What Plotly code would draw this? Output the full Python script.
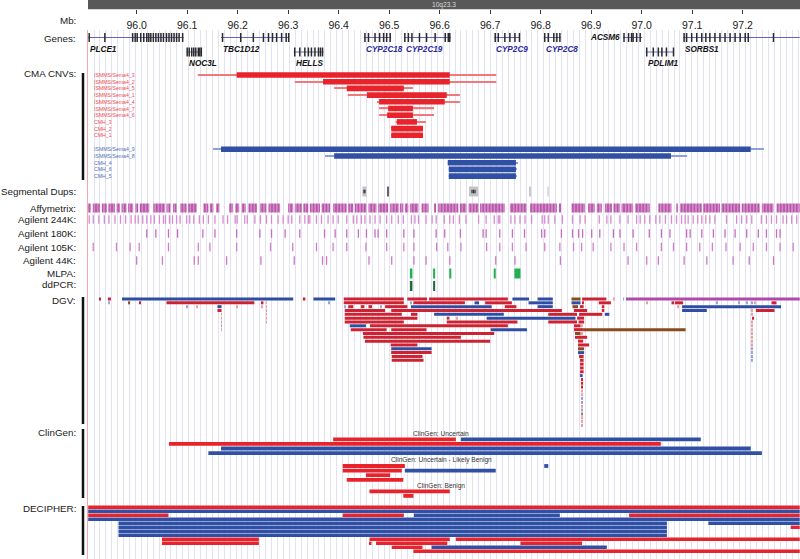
import plotly.graph_objects as go

W, H = 800, 559
VIEW_START, VIEW_END = 95.9036, 97.3135

# ---------------- data ----------------
ruler_ticks = [96.0, 96.1, 96.2, 96.3, 96.4, 96.5, 96.6, 96.7, 96.8, 96.9, 97.0, 97.1, 97.2]
ruler_labels = ["96.0", "96.1", "96.2", "96.3", "96.4", "96.5", "96.6", "96.7", "96.8", "96.9", "97.0", "97.1", "97.2"]
band_name = "10q23.3"

gene_names = ["PLCE1", "NOC3L", "TBC1D12", "HELLS", "CYP2C18", "CYP2C19", "CYP2C9", "CYP2C8", "ACSM6", "PDLIM1", "SORBS1"]
gene_start = [95.904, 96.099, 96.167, 96.311, 96.450, 96.529, 96.708, 96.806, 96.963, 97.008, 97.082]
gene_end = [96.093, 96.129, 96.302, 96.370, 96.504, 96.622, 96.759, 96.840, 97.001, 97.064, 97.313]
gene_row = [0, 1, 0, 1, 0, 0, 0, 0, 0, 1, 0]
gene_is_cyp = [False, False, False, False, True, True, True, True, False, False, False]
gene_exons = {
    "PLCE1": [95.906, 95.937, 95.992, 95.997, 96.001, 96.008, 96.014, 96.020, 96.024, 96.028, 96.033, 96.038,
              96.043, 96.048, 96.053, 96.059, 96.064, 96.069, 96.074, 96.079, 96.084, 96.091],
    "NOC3L": [96.100, 96.104, 96.109, 96.113, 96.117, 96.122, 96.125, 96.128],
    "TBC1D12": [96.170, 96.206, 96.231, 96.251, 96.261, 96.269, 96.277, 96.287, 96.296, 96.301],
    "HELLS": [96.313, 96.323, 96.333, 96.340, 96.346, 96.353, 96.360, 96.364, 96.368],
    "CYP2C18": [96.452, 96.459, 96.472, 96.481, 96.489, 96.495, 96.502],
    "CYP2C19": [96.531, 96.538, 96.545, 96.560, 96.574, 96.591, 96.611, 96.617, 96.620],
    "CYP2C9": [96.710, 96.716, 96.729, 96.739, 96.749, 96.758],
    "CYP2C8": [96.808, 96.815, 96.826, 96.832, 96.838],
    "ACSM6": [96.965, 96.974, 96.980, 96.983, 96.990, 96.997],
    "PDLIM1": [97.010, 97.023, 97.033, 97.040, 97.049, 97.063],
    "SORBS1": [97.084, 97.089, 97.099, 97.109, 97.119, 97.127, 97.135, 97.145, 97.155, 97.165, 97.175, 97.185,
               97.195, 97.205, 97.211, 97.261],
}

cma_labels = ["ISMMS/Sema4_3", "ISMMS/Sema4_2", "ISMMS/Sema4_5", "ISMMS/Sema4_1", "ISMMS/Sema4_4",
              "ISMMS/Sema4_7", "ISMMS/Sema4_6", "CMH_3", "CMH_2", "CMH_1",
              "ISMMS/Sema4_9", "ISMMS/Sema4_8", "CMH_4", "CMH_6", "CMH_5"]
cma_type = ["loss"] * 10 + ["gain"] * 5
cma_outer_start = [96.121, 96.313, 96.391, 96.418, 96.476, 96.480, 96.480, 96.513, 96.504, 96.504,
                   96.151, 96.373, 96.616, 96.618, 96.618]
cma_outer_end = [96.712, 96.712, 96.547, 96.640, 96.640, 96.589, 96.589, 96.573, 96.567, 96.567,
                 97.242, 97.090, 96.755, 96.753, 96.753]
cma_inner_start = [96.198, 96.369, 96.416, 96.456, 96.480, 96.498, 96.496, 96.515, 96.504, 96.504,
                   96.167, 96.391, 96.616, 96.618, 96.618]
cma_inner_end = [96.620, 96.620, 96.529, 96.614, 96.610, 96.547, 96.547, 96.555, 96.567, 96.567,
                 97.216, 97.058, 96.751, 96.751, 96.751]

segdup_start = [96.447, 96.497, 96.658, 96.778, 96.814]
segdup_end = [96.455, 96.499, 96.676, 96.780, 96.816]
segdup_level = ["mid", "dark", "mid", "light", "faint"]
segdup_marks = [96.450, 96.452, 96.664, 96.667, 96.670]

affy_start = [95.903, 95.913, 95.931, 95.944, 95.960, 95.970, 95.983, 95.997, 96.006, 96.033, 96.059, 96.072,
              96.086, 96.102, 96.132, 96.145, 96.157, 96.183, 96.195, 96.208, 96.221, 96.244, 96.261, 96.300,
              96.313, 96.330, 96.343, 96.366, 96.389, 96.419, 96.432, 96.459, 96.478, 96.502, 96.521, 96.531,
              96.541, 96.564, 96.590, 96.597, 96.640, 96.657, 96.680, 96.739, 96.779, 96.838, 96.861, 96.894,
              96.911, 96.927, 96.944, 96.960, 96.987, 97.033, 97.068, 97.076, 97.122, 97.158, 97.198, 97.238,
              97.267]
affy_end = [95.909, 95.927, 95.941, 95.957, 95.967, 95.980, 95.993, 96.003, 96.025, 96.056, 96.067, 96.079,
            96.099, 96.119, 96.142, 96.152, 96.164, 96.191, 96.203, 96.216, 96.238, 96.257, 96.284, 96.310,
            96.327, 96.340, 96.363, 96.383, 96.416, 96.429, 96.455, 96.475, 96.498, 96.519, 96.528, 96.538,
            96.558, 96.578, 96.592, 96.637, 96.653, 96.677, 96.729, 96.772, 96.832, 96.840, 96.888, 96.907,
            96.921, 96.941, 96.957, 96.983, 97.016, 97.059, 97.070, 97.119, 97.155, 97.195, 97.234, 97.261,
            97.313]

agilent_244k = [95.906, 95.914, 95.925, 95.936, 95.945, 95.957, 95.968, 95.978, 95.989, 95.997, 96.003, 96.012,
                96.020, 96.028, 96.035, 96.045, 96.053, 96.057, 96.065, 96.071, 96.079, 96.086, 96.099, 96.105,
                96.113, 96.124, 96.132, 96.142, 96.155, 96.171, 96.180, 96.195, 96.199, 96.214, 96.219, 96.234,
                96.245, 96.257, 96.267, 96.280, 96.290, 96.300, 96.307, 96.323, 96.333, 96.340, 96.343, 96.356,
                96.366, 96.379, 96.389, 96.399, 96.416, 96.429, 96.436, 96.445, 96.452, 96.462, 96.472, 96.482,
                96.495, 96.505, 96.518, 96.528, 96.544, 96.551, 96.558, 96.573, 96.585, 96.593, 96.609, 96.620,
                96.627, 96.639, 96.652, 96.677, 96.692, 96.708, 96.716, 96.719, 96.741, 96.749, 96.759, 96.769,
                96.782, 96.803, 96.808, 96.815, 96.828, 96.843, 96.863, 96.878, 96.888, 96.916, 96.931, 96.939,
                96.957, 96.973, 96.990, 96.997, 97.006, 97.016, 97.028, 97.036, 97.047, 97.059, 97.069, 97.079,
                97.086, 97.092, 97.102, 97.111, 97.119, 97.127, 97.135, 97.145, 97.168, 97.188, 97.198, 97.208,
                97.218, 97.237, 97.247, 97.257, 97.267, 97.280, 97.287, 97.297, 97.307]
agilent_180k = [96.020, 96.038, 96.063, 96.081, 96.131, 96.155, 96.198, 96.244, 96.267, 96.294, 96.323, 96.372,
                96.393, 96.416, 96.439, 96.455, 96.472, 96.478, 96.495, 96.529, 96.549, 96.593, 96.610, 96.641,
                96.686, 96.692, 96.719, 96.744, 96.768, 96.802, 96.808, 96.841, 96.863, 96.875, 96.883, 96.901,
                96.917, 96.944, 96.957, 96.983, 97.015, 97.039, 97.056, 97.089, 97.096, 97.119, 97.142, 97.165,
                97.185, 97.208, 97.231, 97.247, 97.267, 97.274]
agilent_105k = [95.914, 95.960, 95.987, 96.005, 96.063, 96.122, 96.145, 96.198, 96.265, 96.309, 96.356, 96.389,
                96.416, 96.454, 96.495, 96.529, 96.549, 96.594, 96.616, 96.642, 96.693, 96.719, 96.744, 96.771,
                96.808, 96.838, 96.865, 96.881, 96.904, 96.939, 96.965, 96.990, 97.039, 97.063, 97.089, 97.115,
                97.140, 97.167, 97.195, 97.221, 97.247, 97.274, 97.300]
agilent_44k = [96.000, 96.051, 96.114, 96.122, 96.178, 96.246, 96.312, 96.368, 96.376, 96.460, 96.505, 96.549,
               96.573, 96.620, 96.711, 96.749, 96.839, 96.973, 97.010, 97.033, 97.084, 97.129, 97.181, 97.213,
               97.261]

mlpa_start = [96.541, 96.587, 96.619, 96.707, 96.748]
mlpa_end = [96.546, 96.591, 96.623, 96.711, 96.760]
ddpcr_start = [96.541, 96.587]
ddpcr_end = [96.546, 96.591]

# DGV: (row, start, end)
dgv_loss = [
    (0, 95.926, 95.929), (0, 95.943, 95.949), (0, 96.329, 96.334), (0, 96.410, 96.529), (0, 96.536, 96.575),
    (0, 96.579, 96.735), (0, 96.882, 96.930),
    (1, 96.005, 96.008), (1, 96.059, 96.233), (1, 96.248, 96.251), (1, 96.410, 96.529), (1, 96.548, 96.650),
    (1, 96.690, 96.743), (1, 96.882, 96.885), (1, 96.915, 96.939), (1, 97.059, 97.064), (1, 97.066, 97.082),
    (1, 97.257, 97.267),
    (2, 96.419, 96.429), (2, 96.444, 96.451), (2, 96.459, 96.466), (2, 96.492, 96.536), (2, 96.729, 96.752),
    (2, 96.878, 96.885), (2, 96.921, 96.926),
    (3, 96.160, 96.168), (3, 96.412, 96.492), (3, 96.504, 96.842), (3, 96.866, 96.892), (3, 96.921, 96.926),
    (3, 97.226, 97.263),
    (4, 96.412, 96.525), (4, 96.543, 96.556), (4, 96.815, 96.872), (4, 96.876, 96.922),
    (5, 96.412, 96.556), (5, 96.614, 96.619), (5, 96.872, 96.886), (5, 97.219, 97.222),
    (6, 96.412, 96.529), (6, 96.614, 96.754), (6, 96.815, 96.872), (6, 96.875, 96.886),
    (7, 96.462, 96.735), (7, 96.866, 96.879),
    (8, 96.424, 96.495), (8, 96.504, 96.574), (8, 96.866, 96.884),
    (9, 96.448, 96.708),
    (10, 96.449, 96.642), (10, 96.868, 96.892),
    (11, 96.452, 96.700), (11, 96.874, 96.884),
    (12, 96.503, 96.556), (12, 96.874, 96.896),
    (14, 96.504, 96.584),
    (15, 96.505, 96.566), (15, 96.876, 96.885),
    (16, 96.505, 96.568), (16, 96.878, 96.885),
    (17, 96.878, 96.885), (18, 96.878, 96.885), (19, 96.878, 96.885),
    (21, 96.880, 96.883), (22, 96.881, 96.884), (23, 96.881, 96.883),
]
dgv_gain = [
    (0, 95.971, 96.310), (0, 96.350, 96.393), (0, 96.744, 96.777), (0, 96.794, 96.824),
    (1, 96.669, 96.678), (1, 96.776, 96.824), (1, 96.861, 96.879),
    (2, 96.160, 96.168), (2, 96.543, 96.703), (2, 96.794, 96.824), (2, 97.080, 97.276),
    (3, 97.080, 97.129),
    (4, 96.589, 96.727), (4, 96.927, 96.936),
    (5, 96.693, 96.869),
    (7, 96.422, 96.454),
    (8, 96.701, 96.773),
    (13, 96.504, 96.584),
    (14, 96.874, 96.886),
    (20, 96.878, 96.883),
]
dgv_gainloss = [(0, 96.861, 96.879), (1, 95.983, 95.987), (2, 96.863, 96.874), (8, 96.884, 97.087),
                (9, 96.868, 96.879), (13, 96.874, 96.886)]
dgv_complex = [(0, 96.969, 97.313)]
# tiny variants (row, position)
dgv_loss_ticks = [(0, 96.946), (1, 96.257), (1, 97.011), (1, 97.224), (2, 96.119), (2, 96.199), (2, 96.248),
                  (2, 96.257), (2, 97.072), (3, 96.257), (3, 97.219), (4, 96.168), (4, 96.257), (4, 97.219),
                  (5, 96.168), (5, 96.257), (5, 96.634), (6, 96.168), (6, 96.257), (6, 97.219), (7, 96.881),
                  (7, 97.219), (8, 96.168), (8, 97.219), (9, 96.882), (9, 97.219), (10, 97.219), (11, 97.219),
                  (12, 97.219), (24, 96.882), (25, 96.882), (28, 96.882), (31, 96.882), (32, 96.882),
                  (33, 96.882)]
dgv_gain_ticks = [(0, 96.964), (1, 95.946), (1, 96.381), (1, 96.543), (1, 97.149), (1, 97.193), (1, 97.208),
                  (1, 97.218), (2, 96.100), (2, 96.412), (2, 96.483), (7, 96.168), (13, 97.219), (14, 97.219),
                  (15, 97.219), (16, 97.219), (26, 96.882), (27, 96.882), (29, 96.882)]
dgv_gainloss_ticks = [(30, 96.882)]

# ClinGen: (row, start, end, type)
clingen_uncertain = [(0, 96.389, 96.632, "loss"), (0, 96.642, 97.117, "gain"), (1, 96.064, 97.038, "loss"),
                     (2, 96.167, 97.216, "gain"), (3, 96.142, 97.238, "gain")]
clingen_uncertain_lb = [(0, 96.408, 96.531, "loss"), (0, 96.807, 96.815, "gain"), (1, 96.408, 96.525, "loss"),
                        (1, 96.531, 96.711, "gain"), (2, 96.454, 96.502, "loss"), (3, 96.416, 96.528, "loss")]
clingen_benign = [(0, 96.461, 96.620, "loss"), (1, 96.528, 96.548, "loss")]

# DECIPHER: (row, start, end, type)
decipher = [
    (0, 95.904, 97.313, "loss"), (1, 95.904, 97.313, "gain"),
    (2, 95.904, 96.063, "loss"), (2, 96.408, 96.529, "loss"), (2, 96.549, 96.838, "gain"), (2, 96.975, 97.313, "loss"),
    (3, 95.904, 97.313, "gain"),
    (4, 95.964, 97.050, "gain"), (4, 97.132, 97.313, "gain"),
    (5, 95.964, 97.050, "gain"), (5, 97.295, 97.313, "loss"),
    (6, 95.964, 97.050, "gain"), (7, 95.964, 97.050, "gain"),
    (8, 96.050, 96.242, "loss"), (8, 96.461, 96.620, "loss"), (8, 96.632, 97.313, "loss"),
    (9, 96.050, 96.242, "loss"), (9, 96.462, 96.465, "loss"), (9, 96.474, 96.615, "loss"), (9, 96.760, 96.882, "loss"),
    (10, 96.505, 96.566, "loss"), (10, 96.584, 96.931, "gain"),
    (11, 96.548, 97.313, "loss"),
]

# ---------------- layout constants (pixels from top) ----------------
FONT = "Liberation Sans, Arial, sans-serif"
PLOT_TOP = 30
GENE_Y = [37.5, 52.0]
GENE_NAME_Y = [49.3, 63.0]
CMA_Y0, CMA_STEP, CMA_GAIN_Y0 = 75.0, 6.7, 149.3
SEGDUP_Y = 191.5
AFFY_Y = 208.0
AG_Y = {"244K": 219.5, "180K": 233.5, "105K": 247.0, "44K": 260.5}
MLPA_Y, DDPCR_Y = 273.5, 286.0
DGV_Y0, DGV_STEP = 299.0, 3.83
CLIN_Y0 = {"u": 439.3, "ulb": 466.0, "b": 491.3}
CLIN_STEP = 4.6
DEC_Y0, DEC_STEP = 507.3, 4.0

RED = "#e8232b"
BLUE = "#3050a5"
DGV_COL = {"loss": "#cc2232", "gain": "#2f4ea3", "gainloss": "#8b4a1c", "complex": "#b04aa8"}
DGV_TICK_COL = {"loss": "#f0a0a0", "gain": "#98a6d8", "gainloss": "#b08060"}

fig = go.Figure()


def add_bars(starts, ends, ys, height, color, pattern=None, line=None):
    marker = dict(color=color, line=line or dict(width=0))
    if pattern:
        marker["pattern"] = pattern
    fig.add_trace(go.Bar(orientation="h", base=list(starts), x=[e - s for s, e in zip(starts, ends)],
                         y=list(ys), width=height, marker=marker, hoverinfo="skip", showlegend=False))


def add_vsegs(xs, y_top, y_bot, color, width):
    xx, yy = [], []
    for x in xs:
        xx += [x, x, None]
        yy += [y_top, y_bot, None]
    fig.add_trace(go.Scatter(x=xx, y=yy, mode="lines", line=dict(color=color, width=width),
                             hoverinfo="skip", showlegend=False))


# Genes
for name, s, e, r, cyp in zip(gene_names, gene_start, gene_end, gene_row, gene_is_cyp):
    yc = GENE_Y[r]
    fig.add_trace(go.Scatter(x=[s, e], y=[yc, yc], mode="lines", line=dict(color="#6464c0", width=1),
                             hoverinfo="skip", showlegend=False))
    add_vsegs(gene_exons[name], yc - 4.5, yc + 4.5, "#2a2a2a", 1.5)

# CMA CNVs
cma_y = [CMA_Y0 + i * CMA_STEP if t == "loss" else CMA_GAIN_Y0 + (i - 10) * CMA_STEP
         for i, t in enumerate(cma_type)]
for t, thin_col, thick_col in [("loss", "#f07a7a", RED), ("gain", "#8fa0d4", BLUE)]:
    idx = [i for i, tt in enumerate(cma_type) if tt == t]
    add_bars([cma_outer_start[i] for i in idx], [cma_outer_end[i] for i in idx], [cma_y[i] for i in idx],
             1.3, thin_col)
    add_bars([cma_inner_start[i] for i in idx], [cma_inner_end[i] for i in idx], [cma_y[i] for i in idx],
             5.6, thick_col)

# Segmental dups
seg_col = {"mid": "#c4c4c4", "dark": "#666666", "light": "#c8c8c8", "faint": "#dedede"}
for lvl in seg_col:
    idx = [i for i, l in enumerate(segdup_level) if l == lvl]
    add_bars([segdup_start[i] for i in idx], [segdup_end[i] for i in idx], [SEGDUP_Y] * len(idx), 10,
             seg_col[lvl])
add_vsegs(segdup_marks, SEGDUP_Y - 1.8, SEGDUP_Y + 1.8, "#333333", 1.2)

# Affymetrix
add_bars(affy_start, affy_end, [AFFY_Y] * len(affy_start), 9, "#cf7fc6",
         pattern=dict(shape="|", fgcolor="#9c1c84", bgcolor="#d590cc", size=3.2, solidity=0.55))

# Agilent
for key, probes, col in [("244K", agilent_244k, "#d68ad0"), ("180K", agilent_180k, "#c96cc0"),
                         ("105K", agilent_105k, "#d080c8"), ("44K", agilent_44k, "#cf78c6")]:
    add_vsegs(probes, AG_Y[key] - 4.3, AG_Y[key] + 4.3, col, 1.3)

# MLPA / ddPCR
add_bars(mlpa_start, mlpa_end, [MLPA_Y] * len(mlpa_start), 10, "#21b04e")
add_bars(ddpcr_start, ddpcr_end, [DDPCR_Y] * len(ddpcr_start), 10, "#1d6b3c")

# DGV
for typ, items in [("loss", dgv_loss), ("gain", dgv_gain), ("gainloss", dgv_gainloss), ("complex", dgv_complex)]:
    add_bars([s for _, s, _ in items], [e for _, _, e in items], [DGV_Y0 + r * DGV_STEP for r, _, _ in items],
             3.0, DGV_COL[typ])
for typ, items in [("loss", dgv_loss_ticks), ("gain", dgv_gain_ticks), ("gainloss", dgv_gainloss_ticks)]:
    add_bars([p - 0.0009 for _, p in items], [p + 0.0009 for _, p in items],
             [DGV_Y0 + r * DGV_STEP for r, _ in items], 3.0, DGV_TICK_COL[typ])

# ClinGen
for grp, items in [("u", clingen_uncertain), ("ulb", clingen_uncertain_lb), ("b", clingen_benign)]:
    for typ, col in [("loss", RED), ("gain", BLUE)]:
        sel = [it for it in items if it[3] == typ]
        if sel:
            add_bars([s for _, s, _, _ in sel], [e for _, _, e, _ in sel],
                     [CLIN_Y0[grp] + r * CLIN_STEP for r, _, _, _ in sel], 3.8, col)

# DECIPHER
for typ, col in [("loss", RED), ("gain", BLUE)]:
    sel = [it for it in decipher if it[3] == typ]
    add_bars([s for _, s, _, _ in sel], [e for _, _, e, _ in sel],
             [DEC_Y0 + r * DEC_STEP for r, _, _, _ in sel], 3.4, col)

# ---------------- annotations ----------------
def py(ypx):
    return 1 - ypx / H


ann = []
track_labels = [("Mb:", 20), ("Genes:", 38), ("CMA CNVs:", 73.5), ("Segmental Dups:", 191.5),
                ("Affymetrix:", 208), ("Agilent 244K:", 219), ("Agilent 180K:", 233.5),
                ("Agilent 105K:", 247), ("Agilent 44K:", 260.5), ("MLPA:", 273), ("ddPCR:", 284.5),
                ("DGV:", 300), ("ClinGen:", 432.5), ("DECIPHER:", 508)]
for txt, y in track_labels:
    ann.append(dict(text=txt, x=78 / W, xref="paper", xanchor="right", y=py(y), yref="paper", yanchor="middle",
                    showarrow=False, font=dict(family=FONT, size=9.8, color="#1a1a1a")))

for name, s, r, cyp in zip(gene_names, gene_start, gene_row, gene_is_cyp):
    col = "#2a2a9a" if cyp else "#111111"
    if name == "ACSM6":
        ann.append(dict(text=f"<b><i>{name}</i></b>", x=s - 0.002, xanchor="right", xref="x", y=GENE_Y[r],
                        yref="y", yanchor="middle", showarrow=False, font=dict(family=FONT, size=8.2, color=col)))
    else:
        ann.append(dict(text=f"<b><i>{name}</i></b>", x=s, xanchor="left", xref="x", y=GENE_NAME_Y[r], yref="y",
                        yanchor="middle", showarrow=False, font=dict(family=FONT, size=8.2, color=col)))

for lab, t, y in zip(cma_labels, cma_type, cma_y):
    ann.append(dict(text=lab, x=91.5 / W, xref="paper", xanchor="left", y=y, yref="y", yanchor="middle",
                    showarrow=False, font=dict(family=FONT, size=5.2, color="#ee4a50" if t == "loss" else "#5070b4")))

mid = (VIEW_START + VIEW_END) / 2
for txt, y in [("ClinGen: Uncertain", 433.5), ("ClinGen: Uncertain - Likely Benign", 459.5),
               ("ClinGen: Benign", 485.5)]:
    ann.append(dict(text=txt, x=96.603, xref="x", xanchor="center", y=y, yref="y", yanchor="middle",
                    showarrow=False, font=dict(family=FONT, size=6.6, color="#333333")))

ann.append(dict(text=band_name, x=mid, xref="x", xanchor="center", y=py(4.7), yref="paper", yanchor="middle",
                showarrow=False, font=dict(family=FONT, size=6.6, color="#d8d8d8")))

shapes = [dict(type="rect", xref="x", yref="paper", x0=VIEW_START, x1=VIEW_END, y0=py(9.3), y1=1,
               fillcolor="#585858", line=dict(width=0), layer="above")]
for y0, y1 in [(73, 180), (297, 424), (429, 498), (506, 555)]:
    shapes.append(dict(type="line", xref="paper", yref="y", x0=83 / W, x1=83 / W, y0=y0, y1=y1,
                       line=dict(color="#111111", width=2.5)))

fig.update_layout(
    width=W, height=H, margin=dict(l=0, r=0, t=0, b=0),
    paper_bgcolor="white", plot_bgcolor="white", barmode="overlay",
    annotations=ann, shapes=shapes, showlegend=False,
    xaxis=dict(domain=[88 / W, 1], range=[VIEW_START, VIEW_END], anchor="free", position=py(9.3),
               side="bottom", tickvals=ruler_ticks, ticktext=ruler_labels, ticks="outside", ticklen=4,
               tickcolor="#333333", tickwidth=1, tickfont=dict(family=FONT, size=10.5, color="#1a1a1a"),
               ticklabelstandoff=2,
               showgrid=False, zeroline=False, showline=False,
               minor=dict(tick0=95.9155, dtick=0.01172, showgrid=True, gridcolor="#e2e2f2", gridwidth=1,
                          ticks="")),
    yaxis=dict(domain=[0, py(PLOT_TOP)], range=[H, PLOT_TOP], showgrid=False, zeroline=False,
               showticklabels=False, showline=True, linecolor="#f4a8a8", linewidth=1, ticks=""),
)

fig.write_html("out.html", config={"displayModeBar": False},
               post_script="document.body.style.margin='0';document.body.style.padding='0';")
